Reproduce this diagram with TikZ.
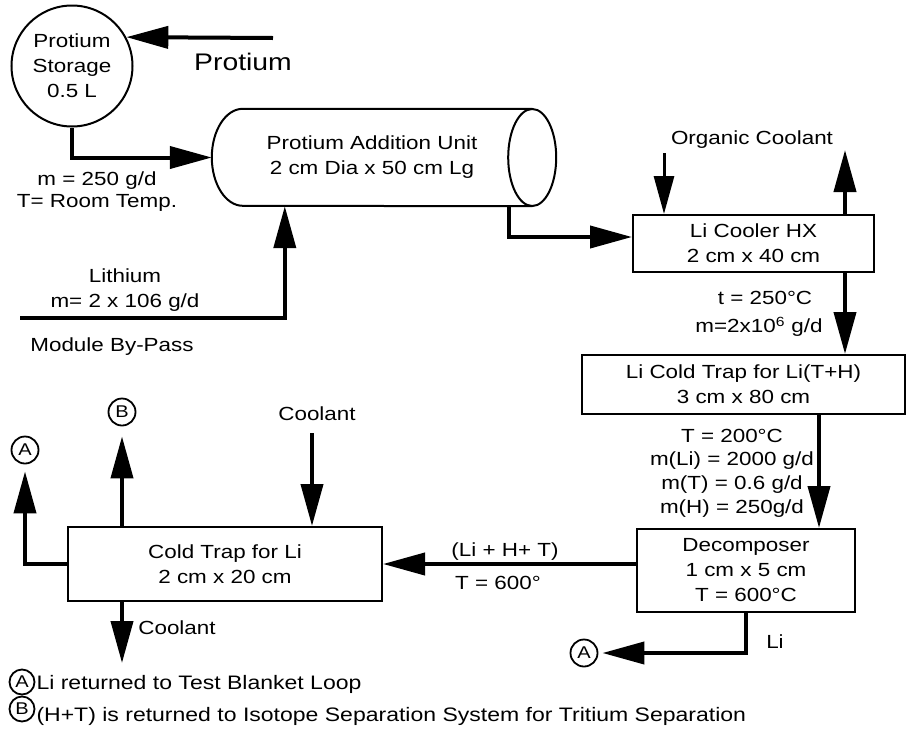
\documentclass[tikz,border=0pt]{standalone}
\usepackage{fontspec}
\setmainfont{Liberation Sans}[FakeStretch=1.18]
\usetikzlibrary{arrows.meta}

\begin{document}
\begin{tikzpicture}[x=1pt,y=1pt,
    flow/.style={line width=4pt, -{Triangle[length=42pt,width=22pt]}},
    thinflow/.style={line width=3pt, -{Triangle[length=38pt,width=20pt]}},
    unit/.style={draw, line width=2pt, align=center, inner sep=0pt, font=\fontsize{19}{25}\selectfont},
    lbl/.style={align=center, font=\fontsize{19}{25}\selectfont},
    note/.style={anchor=west, font=\fontsize{19.5}{22}\selectfont},
    tag/.style={draw, circle, line width=1.8pt, minimum size=27pt, inner sep=0pt, font=\fontsize{17}{17}\selectfont}]
    \useasboundingbox (0,0) rectangle (908,-737);

    % Protium storage
    \node[unit, circle, minimum size=121pt] (store) at (72,-66) {Protium\\Storage\\0.5 L};
    \node[font=\fontsize{24}{24}\selectfont] (plbl) at (243,-62) {Protium};
    \coordinate (pin) at (273,-38);
    \draw[flow] (pin) -- (store.28);
    \node[lbl, font=\fontsize{19}{22}\selectfont] (slbl) at (97,-192) {m = 250 g/d\\T= Room Temp.};

    % Protium addition unit
    \node[lbl, minimum width=320, minimum height=97] (pau) at (372,-157.5) {Protium Addition Unit\\2 cm Dia x 50 cm Lg};
    \draw[line width=2pt] (pau.north east) -- ([xshift=31pt]pau.north west)
        arc[start angle=90, end angle=270, x radius=31, y radius=48.5] -- (pau.south east);
    \draw[line width=2pt] (pau.east) ellipse[x radius=24, y radius=48.5];
    \draw[flow] (store.south) |- (pau.west);

    % Lithium by-pass
    \coordinate (libp) at (20,-318);
    \draw[flow] (libp) -| ([xshift=73pt]pau.south west);
    \node[lbl] (lilbl) at (125,-290) {Lithium\\m= 2 x 106 g/d};
    \node[lbl] (bplbl) at (112,-347) {Module By-Pass};

    % Li cooler
    \node[unit, minimum width=241, minimum height=57] (cooler) at (753.5,-243.5) {Li Cooler HX\\2 cm x 40 cm};
    \draw[flow] ([xshift=-23pt]pau.south east) |- ([yshift=6.5pt]cooler.west);
    \node[lbl] (orgc) at (752,-140) {Organic Coolant};
    \coordinate (ocin) at (664,-153);
    \coordinate (ocout) at (845,-150);
    \draw[thinflow] (ocin) -- (ocin |- cooler.north);
    \draw[flow] (ocout |- cooler.north) -- (ocout);

    % Li cold trap
    \node[unit, minimum width=323, minimum height=59] (trap) at (743.5,-384.5) {Li Cold Trap for Li(T+H)\\3 cm x 80 cm};
    \draw[flow] (ocout |- cooler.south) -- (ocout |- trap.north);
    \node[lbl] (tcool) at (765,-298) {t = 250°C};
    \node[lbl, anchor=east] (mcool) at (826,-327) {m=2x10\textsuperscript{6} g/d};

    % Decomposer
    \node[unit, minimum width=218, minimum height=83] (dec) at (746,-570.5) {Decomposer\\1 cm x 5 cm\\T = 600°C};
    \coordinate (tdx) at (819,-414);
    \draw[flow] (tdx |- trap.south) -- (tdx |- dec.north);
    \node[lbl, font=\fontsize{19}{23.7}\selectfont] (trapout) at (732,-473) {T = 200°C\\m(Li) = 2000 g/d\\m(T) = 0.6 g/d\\m(H) = 250g/d};
    \node[tag] (ta1) at (584,-653) {A};
    \draw[flow, shorten >=4pt] (dec.south) |- (ta1.east);
    \node[lbl] (lili) at (775,-642) {Li};

    % Cold trap for Li
    \node[unit, minimum width=314, minimum height=74] (ctl) at (225,-564) {Cold Trap for Li\\2 cm x 20 cm};
    \draw[flow] (dec.west |- ctl.east) -- (ctl.east);
    \node[lbl] (mixlbl) at (505,-552) {(Li + H+ T)};
    \node[lbl] (mixt) at (498,-583) {T = 600°};
    \node[lbl] (cin) at (317,-414) {Coolant};
    \coordinate (cinx) at (312,-433);
    \draw[flow] (cinx) -- (cinx |- ctl.north);
    \node[tag] (tb) at (122,-412) {B};
    \draw[flow, shorten >=10pt] (tb |- ctl.north) -- (tb.south);
    \node[tag] (ta2) at (25,-450) {A};
    \draw[flow, shorten >=7pt] (ctl.west) -| (ta2.south);
    \coordinate (coutx) at (122,-663);
    \draw[flow] (coutx |- ctl.south) -- (coutx);
    \node[lbl] (cout) at (177,-628) {Coolant};

    % Legend
    \node[tag, minimum size=25pt] (la) at (22,-682) {A};
    \node[note] (lta) at (33,-684) {Li returned to Test Blanket Loop};
    \node[tag, minimum size=25pt] (lb) at (22,-709) {B};
    \node[note] (ltb) at (33,-716) {(H+T) is returned to Isotope Separation System for Tritium Separation};
\end{tikzpicture}
\end{document}
